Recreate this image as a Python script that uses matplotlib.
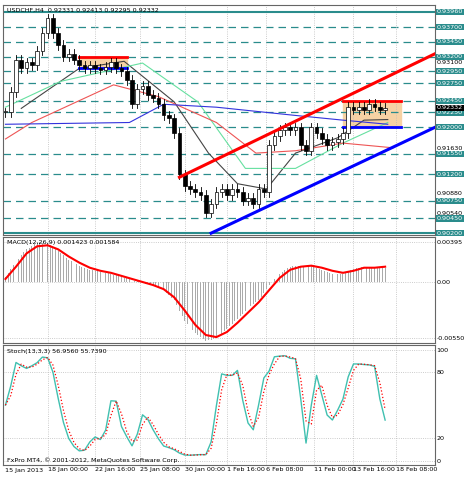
import matplotlib
matplotlib.use("Agg")
import matplotlib.pyplot as plt
import numpy as np
import pandas as pd

closes = [0.9225,0.9260,0.9315,0.9300,0.9310,0.9305,0.9330,0.9360,0.9385,0.9360,
          0.9340,0.9320,0.9325,0.9315,0.9305,0.9300,0.9305,0.9300,0.9298,0.9302,
          0.9310,0.9300,0.9295,0.9280,0.9240,0.9265,0.9270,0.9255,0.9250,0.9240,
          0.9220,0.9215,0.9190,0.9120,0.9100,0.9095,0.9090,0.9085,0.9055,0.9070,
          0.9090,0.9095,0.9085,0.9095,0.9090,0.9075,0.9080,0.9070,0.9095,0.9090,
          0.9170,0.9185,0.9195,0.9200,0.9195,0.9200,0.9170,0.9160,0.9200,0.9190,
          0.9180,0.9170,0.9175,0.9180,0.9190,0.9235,0.9230,0.9235,0.9230,0.9240,
          0.9235,0.9230,0.9233]
ma_black_x = [6, 28, 45, 64, 77, 88, 99, 110, 126, 136, 145]
ma_black_y = [0.9232, 0.9300, 0.9312, 0.9243, 0.9156, 0.9104, 0.9095, 0.9156, 0.9182, 0.9212, 0.9213]
ma_green_x = [0, 21, 52, 73, 91, 110, 128, 145]
ma_green_y = [0.9234, 0.9278, 0.9309, 0.9243, 0.9130, 0.9130, 0.9173, 0.9208]
ma_red_x = [0, 10, 41, 58, 80, 95, 110, 128, 147]
ma_red_y = [0.9180, 0.9208, 0.9272, 0.9252, 0.9208, 0.9156, 0.9160, 0.9173, 0.9165]
ma_blue_x = [0, 47, 60, 80, 110, 128, 145]
ma_blue_y = [0.9205, 0.9208, 0.9239, 0.9234, 0.9220, 0.9212, 0.9205]
macd_hist = [0.5,2.0,3.2,3.9,3.8,3.0,2.2,1.6,1.2,1.0,0.8,0.5,0.2,-0.1,-0.3,-0.8,-1.8,-3.8,
             -5.0,-5.8,-5.5,-4.6,-3.6,-2.6,-1.8,-0.3,0.8,1.5,1.6,1.6,1.2,0.8,0.8,1.3,1.5,1.4,1.4]
macd_signal = [0.3,1.5,2.8,3.5,3.6,3.2,2.5,1.9,1.4,1.1,0.9,0.6,0.3,0.0,-0.3,-0.7,-1.5,-2.8,
               -4.2,-5.2,-5.4,-4.9,-4.0,-3.0,-2.0,-0.8,0.4,1.2,1.5,1.6,1.4,1.1,0.9,1.1,1.4,1.4,1.5]
teal_levels = [0.9370,0.9345,0.9320,0.9295,0.9275,0.9245,0.9225,0.9200,0.9155,0.9120,0.9075,0.9045]
solid_levels = [0.9396,0.9020]
other_labels = [0.9310,0.9163,0.9088,0.9054]
tick_pos = [16,34,51,68,84,99,117,132,148]
tick_labels = ["18 Jan 00:00","22 Jan 16:00","25 Jan 08:00","30 Jan 00:00","1 Feb 16:00",
               "6 Feb 08:00","11 Feb 00:00","13 Feb 16:00","18 Feb 08:00"]

TEAL = "#2a8c8c"
FS = 4.6
c = pd.Series(closes)
x = np.arange(len(closes)) * 2.0
fig = plt.figure(figsize=(4.7, 4.8), dpi=100)
L, W = 0.006, 0.92
ax1 = fig.add_axes([L, 0.51, W, 0.48])
ax2 = fig.add_axes([L, 0.285, W, 0.221])
ax3 = fig.add_axes([L, 0.031, W, 0.25])
for a in (ax1, ax2, ax3):
    a.set_xlim(-1, 163)
    a.set_xticks(tick_pos)
    a.grid(True, color="#bbbbbb", linestyle=":", linewidth=0.6)
    a.tick_params(labelsize=FS, length=0, pad=1)
    a.yaxis.tick_right()
    a.set_xticklabels([])
    for s in a.spines.values():
        s.set_color("#666666")

opens = c.shift(1).fillna(c[0])
for xi, o, cl in zip(x, opens, c):
    hi, lo = max(o, cl) + 0.0008, min(o, cl) - 0.0008
    ax1.plot([xi, xi], [lo, hi], color="black", lw=0.6, zorder=3)
    ax1.bar(xi, max(abs(cl - o), 0.0002), bottom=min(o, cl), width=1.4,
            color="white" if cl >= o else "black", edgecolor="black", lw=0.5, zorder=3)
for mx, my, col in [(ma_black_x, ma_black_y, "#444444"), (ma_green_x, ma_green_y, "#66e0a0"),
                    (ma_red_x, ma_red_y, "#ee5555"), (ma_blue_x, ma_blue_y, "#3333dd")]:
    ax1.plot(mx, my, color=col, lw=0.8, zorder=2)
for lv in teal_levels:
    ax1.axhline(lv, color=TEAL, ls=(0, (6, 4)), lw=0.9, zorder=1)
for lv in solid_levels:
    ax1.axhline(lv, color=TEAL, lw=1.5)
ax1.fill_between([28, 46], 0.9300, 0.9320, color="#f6d2a4", zorder=0)
ax1.plot([28, 46], [0.9320, 0.9320], color="red", lw=2)
ax1.plot([28, 46], [0.9300, 0.9300], color="blue", lw=2)
ax1.fill_between([128, 150], 0.9200, 0.9245, color="#f6d2a4", zorder=0)
ax1.plot([128, 150], [0.9245, 0.9245], color="red", lw=2)
ax1.plot([128, 150], [0.9200, 0.9200], color="blue", lw=2)
ax1.plot([66, 163], [0.9115, 0.9325], color="red", lw=2.2, zorder=4)
ax1.plot([78, 163], [0.9020, 0.9200], color="blue", lw=2.2, zorder=4)
ax1.set_ylim(0.90165, 0.9408)
ax1.set_yticks([])
for lv in teal_levels + solid_levels:
    ax1.text(1.004, lv, f"{lv:.5f}", transform=ax1.get_yaxis_transform(), fontsize=FS,
             color="white", va="center", bbox=dict(fc=TEAL, ec="none", pad=0.4))
for lv in other_labels:
    ax1.text(1.004, lv, f"{lv:.5f}", transform=ax1.get_yaxis_transform(), fontsize=FS, va="center")
ax1.text(1.004, 0.92332, "0.92332", transform=ax1.get_yaxis_transform(), fontsize=FS,
         color="white", va="center", bbox=dict(fc="black", ec="none", pad=0.4))
ax1.text(0.01, 0.985, "USDCHF,H4  0.92331 0.92413 0.92295 0.92332", transform=ax1.transAxes,
         fontsize=FS, va="top")

xm = np.arange(len(macd_hist)) * 4.0
hist = np.array(macd_hist) / 1000
hx = np.arange(0, xm[-1] + 0.1, 1.0)
ax2.bar(hx, np.interp(hx, xm, hist), width=0.35, color="#aaaaaa")
ax2.plot(xm, np.array(macd_signal) / 1000, color="red", lw=1.5)
ax2.set_ylim(-0.0060, 0.0044)
ax2.set_yticks([0.00395, 0.0, -0.0055])
ax2.set_yticklabels(["0.00395", "0.00", "-0.00550"])
ax2.text(0.01, 0.97, "MACD(12,26,9) 0.001423 0.001584", transform=ax2.transAxes, fontsize=FS, va="top")

hh = (c + 0.0008).rolling(7, min_periods=1).max()
ll = (c - 0.0008).rolling(7, min_periods=1).min()
k = 100 * (c - ll) / (hh - ll)
k = k.rolling(2, min_periods=1).mean()
d = k.rolling(2, min_periods=1).mean()
ax3.plot(x, k, color="#40c0b0", lw=1)
ax3.plot(x, d, color="red", lw=0.9, ls=":")
ax3.set_ylim(-4, 104)
ax3.set_yticks([100, 80, 20, 0])
ax3.text(0.01, 0.97, "Stoch(13,3,3) 56.9560 55.7390", transform=ax3.transAxes, fontsize=FS, va="top")
ax3.text(0.01, 0.03, "FxPro MT4, © 2001-2012, MetaQuotes Software Corp.", transform=ax3.transAxes, fontsize=FS)
ax3.set_xticklabels(tick_labels, ha="left")
ax3.text(0, -0.02, "15 Jan 2013", transform=ax3.get_xaxis_transform(), fontsize=FS, va="top")
fig.savefig("out.png", dpi=100, facecolor="white")
